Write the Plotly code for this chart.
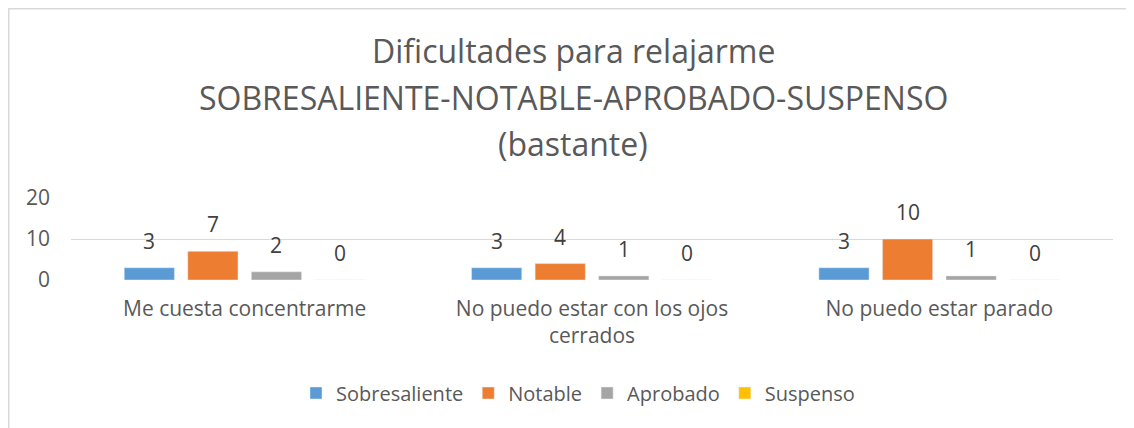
import plotly.graph_objects as go

categories = ["Me cuesta concentrarme", "No puedo estar con los ojos<br>cerrados", "No puedo estar parado"]
series_names = ["Sobresaliente", "Notable", "Aprobado", "Suspenso"]
sobresaliente = [3, 3, 3]
notable = [7, 4, 10]
aprobado = [2, 1, 1]
suspenso = [0, 0, 0]
colors = ["#5B9BD5", "#ED7D31", "#A5A5A5", "#FFC000"]
y_ticks = [0, 10, 20]
title_lines = ["Dificultades para relajarme", "SOBRESALIENTE-NOTABLE-APROBADO-SUSPENSO", "(bastante)"]

# the page body has an 8px margin, so the figure is drawn 8px in from the page corner
OFF = 8
W, H = 1134 - OFF, 428 - OFF
L, R, T, B = 71 - OFF, 21, 198 - OFF, 148
pw, ph = W - L - R, H - T - B
BARGAP, GROUPGAP = 0.268, 0.21

def px_to_paper_x(px_page):
    return (px_page - OFF - L) / pw

def px_to_paper_y(py_page):
    return (H - B - (py_page - OFF)) / ph

FONT = "Open Sans"
TXT = "#595959"
all_series = [sobresaliente, notable, aprobado, suspenso]
fig = go.Figure()
for name, vals, c in zip(series_names, all_series, colors):
    fig.add_trace(go.Bar(x=categories, y=vals, name=name, marker_color=c))

# data labels above each bar (placed in data coordinates of the grouped bars)
n = len(series_names)
slot = (1 - BARGAP) / n
for i, vals in enumerate(all_series):
    for j, v in enumerate(vals):
        fig.add_annotation(x=j + (i - (n - 1) / 2) * slot, y=v, xref="x", yref="y",
                           text=str(v), showarrow=False, xanchor="center", yanchor="bottom",
                           yshift=11, font=dict(family=FONT, size=21, color="#404040"))

# title lines
for line, py in zip(title_lines, [50, 98, 143]):
    fig.add_annotation(text=line, xref="paper", yref="paper",
                       x=px_to_paper_x(573), y=px_to_paper_y(py),
                       xanchor="center", yanchor="middle", showarrow=False,
                       font=dict(family=FONT, size=32, color=TXT))

# chart frame (left and top edges)
fig.add_shape(type="line", xref="paper", yref="paper",
              x0=px_to_paper_x(OFF + 0.75), x1=px_to_paper_x(OFF + 0.75),
              y0=px_to_paper_y(440), y1=px_to_paper_y(OFF + 0.75),
              line=dict(color="#D9D9D9", width=1.5))
fig.add_shape(type="line", xref="paper", yref="paper",
              x0=px_to_paper_x(OFF), x1=px_to_paper_x(1140),
              y0=px_to_paper_y(OFF + 0.75), y1=px_to_paper_y(OFF + 0.75),
              line=dict(color="#D9D9D9", width=1.5))

fig.update_layout(
    width=W, height=H,
    margin=dict(l=L, r=R, t=T, b=B, autoexpand=False),
    paper_bgcolor="white", plot_bgcolor="white",
    barmode="group", bargap=BARGAP, bargroupgap=GROUPGAP,
    showlegend=True,
    legend=dict(orientation="h", x=px_to_paper_x(578), xanchor="center",
                y=px_to_paper_y(393), yanchor="middle",
                font=dict(family=FONT, size=20, color=TXT),
                itemwidth=30, traceorder="normal"),
    xaxis=dict(showgrid=False, showline=False, ticks="", ticklabelstandoff=14,
               tickfont=dict(family=FONT, size=21, color=TXT)),
    yaxis=dict(range=[0, 20], tickvals=y_ticks, showgrid=True, gridcolor="#D9D9D9",
               gridwidth=1, zeroline=False, showline=False, ticks="",
               ticklabelstandoff=20,
               tickfont=dict(family=FONT, size=21, color=TXT)),
)

fig.write_html("out.html")
